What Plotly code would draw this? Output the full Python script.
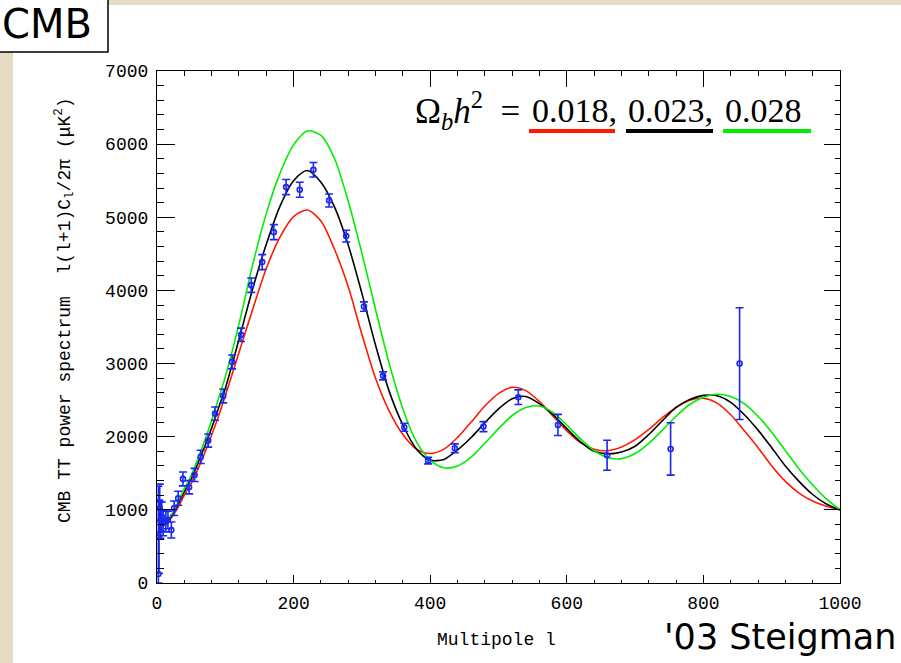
import plotly.graph_objects as go

# ---------------- data ----------------
ell_data = [2, 3, 4, 5, 7, 9, 13, 16, 21, 25, 31, 38, 47, 55, 64, 75, 85, 97, 110,
            123, 138, 154, 171, 189, 209, 229, 252, 277, 303, 331, 362, 397, 436,
            478, 529, 587, 659, 752, 853]
cl_data = [123, 633, 1022, 862, 907, 817, 839, 862, 725, 1022, 1159, 1423, 1309,
           1477, 1724, 1947, 2316, 2558, 3023, 3393, 4072, 4387, 4797, 5413, 5376,
           5650, 5230, 4743, 3780, 2832, 2130, 1673, 1842, 2138, 2540, 2161, 1747,
           1833, 3000]
err_plus = [1200, 500, 330, 250, 200, 170, 140, 120, 110, 100, 95, 95, 90, 90, 90,
            90, 90, 95, 95, 91, 98, 103, 103, 103, 103, 100, 89, 80, 64, 55, 55, 45,
            60, 68, 100, 144, 205, 358, 764]
err_minus = [123, 500, 330, 250, 200, 170, 140, 120, 110, 100, 95, 95, 90, 90, 90,
             90, 90, 95, 95, 91, 98, 103, 103, 103, 103, 100, 89, 80, 64, 55, 55, 45,
             60, 68, 100, 144, 205, 358, 764]

ell_model = [2, 10, 20, 30, 40, 50, 60, 70, 80, 90, 100,
             120, 140, 160, 180, 200, 220, 240, 260, 280, 300, 320, 340, 360, 380,
             400, 420, 440, 460, 480, 500, 520, 540, 560, 580, 600, 620, 640, 660,
             680, 700, 720, 740, 760, 780, 800, 820, 840, 860, 880, 900, 920, 940,
             960, 980, 1000]
cl_018 = [950, 810, 880, 1020, 1200, 1360, 1560, 1780, 2020, 2280, 2560,
          3150, 3740, 4300, 4730, 5010, 5100, 4950, 4560, 4050, 3400, 2800, 2350,
          2030, 1830, 1770, 1830, 1990, 2200, 2420, 2590, 2675, 2630, 2480, 2280,
          2080, 1920, 1830, 1810, 1860, 1960, 2100, 2260, 2400, 2500, 2525, 2460,
          2300, 2080, 1850, 1600, 1390, 1230, 1120, 1050, 1000]
cl_023 = [950, 820, 900, 1060, 1250, 1420, 1640, 1870, 2120, 2390, 2660,
          3330, 4020, 4630, 5150, 5500, 5640, 5480, 5140, 4620, 3960, 3250, 2620,
          2160, 1830, 1680, 1690, 1820, 1990, 2190, 2380, 2520, 2550, 2450, 2300,
          2110, 1930, 1800, 1765, 1790, 1870, 2030, 2220, 2400, 2510, 2565, 2560,
          2470, 2300, 2090, 1850, 1600, 1390, 1210, 1080, 1000]
cl_028 = [950, 830, 920, 1090, 1290, 1470, 1700, 1950, 2220, 2520, 2820,
          3540, 4350, 5050, 5600, 5990, 6180, 6120, 5800, 5220, 4510, 3740, 3000,
          2380, 1930, 1680, 1575, 1600, 1720, 1910, 2110, 2290, 2400, 2420, 2330,
          2160, 1970, 1810, 1715, 1700, 1770, 1910, 2090, 2280, 2440, 2540, 2580,
          2550, 2450, 2280, 2060, 1810, 1560, 1340, 1150, 1000]

omega_labels = ["0.018,", "0.023,", "0.028"]
curve_colors = ["#ff1a00", "#000000", "#00ee00"]

# ---------------- layout helpers (pixel -> paper fraction) ----------------
W, H = 901, 663
ML, MR, MT, MB = 157, 61, 71, 80
PW, PH = W - ML - MR, H - MT - MB


def fx(px):
    return (px - ML) / PW


def fy(py):
    return (H - MB - py) / PH


fig = go.Figure()

for cl, col in zip([cl_018, cl_023, cl_028], curve_colors):
    fig.add_trace(go.Scatter(x=ell_model, y=cl, mode="lines",
                             line=dict(color=col, width=1.6, shape="spline", smoothing=0.8),
                             hoverinfo="skip", showlegend=False))

fig.add_trace(go.Scatter(
    x=ell_data, y=cl_data, mode="markers",
    marker=dict(symbol="circle-open", size=5, color="#1a28f2", line=dict(width=1.6, color="#1a28f2")),
    error_y=dict(type="data", array=err_plus, arrayminus=err_minus, symmetric=False,
                 color="#1a28f2", thickness=1.6, width=4),
    showlegend=False))

# invisible trace for secondary (mirror) axes
fig.add_trace(go.Scatter(x=[0, 1000], y=[0, 7000], xaxis="x2", yaxis="y2",
                         mode="markers", marker=dict(opacity=0), hoverinfo="skip",
                         showlegend=False))

tick_font = dict(family="Liberation Mono", size=18, color="black")

fig.update_layout(
    width=W, height=H,
    margin=dict(l=ML, r=MR, t=MT, b=MB, pad=0),
    paper_bgcolor="#e7dcc3",
    plot_bgcolor="white",
    xaxis=dict(range=[0, 1000], showgrid=False, zeroline=False, showline=True,
               linecolor="black", linewidth=1.2, ticks="inside", ticklen=8,
               tickwidth=1.2, tickcolor="black", dtick=200, tick0=0,
               tickfont=tick_font, ticklabelstandoff=3,
               minor=dict(dtick=40, ticks="inside", ticklen=3, tickcolor="black", tickwidth=1)),
    yaxis=dict(range=[0, 7000], showgrid=False, zeroline=False, showline=True,
               linecolor="black", linewidth=1.2, ticks="inside", ticklen=18,
               tickwidth=1.2, tickcolor="black", dtick=1000, tick0=0,
               tickfont=tick_font, ticklabelstandoff=4,
               minor=dict(dtick=200, ticks="inside", ticklen=7, tickcolor="black", tickwidth=1)),
    xaxis2=dict(range=[0, 1000], overlaying="x", side="top", anchor="y2",
                showgrid=False, zeroline=False, showline=True, linecolor="black",
                linewidth=1.2, ticks="inside", ticklen=16, tickwidth=1.2,
                tickcolor="black", dtick=200, tick0=0, showticklabels=False,
                minor=dict(dtick=40, ticks="inside", ticklen=5, tickcolor="black", tickwidth=1)),
    yaxis2=dict(range=[0, 7000], overlaying="y", side="right", anchor="x2",
                showgrid=False, zeroline=False, showline=True, linecolor="black",
                linewidth=1.2, ticks="inside", ticklen=16, tickwidth=1.2,
                tickcolor="black", dtick=1000, tick0=0, showticklabels=False,
                minor=dict(dtick=200, ticks="inside", ticklen=5, tickcolor="black", tickwidth=1)),
)

shapes = [
    # white slide area
    dict(type="rect", xref="paper", yref="paper", x0=fx(13), x1=fx(905), y0=fy(5), y1=fy(670),
         fillcolor="white", line=dict(width=0), layer="below"),
    # CMB box
    dict(type="rect", xref="paper", yref="paper", x0=fx(-5), x1=fx(108), y0=fy(-5), y1=fy(52),
         fillcolor="white", line=dict(color="black", width=1.5), layer="above"),
]
# coloured underlines for the Omega_b h^2 values
for (x0, x1), col in zip([(529, 615), (626, 713), (723, 811)], curve_colors):
    shapes.append(dict(type="line", xref="paper", yref="paper", x0=fx(x0), x1=fx(x1),
                       y0=fy(131), y1=fy(131), line=dict(color=col, width=4)))
fig.update_layout(shapes=shapes)

annotations = [
    dict(text="CMB", x=fx(1), y=fy(0), xref="paper", yref="paper", xanchor="left",
         yanchor="top", borderpad=0, showarrow=False,
         font=dict(family="DejaVu Sans", size=40, color="black")),
    dict(text="'03 Steigman", x=fx(898), y=fy(637), xref="paper", yref="paper",
         xanchor="right", yanchor="middle", showarrow=False,
         font=dict(family="DejaVu Sans", size=35, color="black")),
    dict(text="Multipole l", x=fx(496), y=fy(640), xref="paper", yref="paper",
         xanchor="center", yanchor="middle", showarrow=False,
         font=dict(family="Liberation Mono", size=18, color="black")),
    dict(text="CMB TT power spectrum  l(l+1)C<sub>l</sub>/2\u03c0 (\u03bcK<sup>2</sup>)",
         x=fx(64), y=fy(310), xref="paper", yref="paper", xanchor="center",
         yanchor="middle", textangle=-90, showarrow=False,
         font=dict(family="Liberation Mono", size=18, color="black")),
    dict(text="\u03a9<sub><i>b</i></sub><i>h</i><sup>2</sup>\u2002=", x=fx(522), y=fy(110),
         xref="paper", yref="paper", xanchor="right", yanchor="middle", showarrow=False,
         font=dict(family="Liberation Serif", size=35, color="black")),
]
for lab, xl in zip(omega_labels, [530, 626, 723]):
    annotations.append(dict(text=lab, x=fx(xl), y=fy(110), xref="paper", yref="paper",
                            xanchor="left", yanchor="middle", showarrow=False,
                            font=dict(family="Liberation Serif", size=34, color="black")))
fig.update_layout(annotations=annotations)

fig.write_html("out.html")
